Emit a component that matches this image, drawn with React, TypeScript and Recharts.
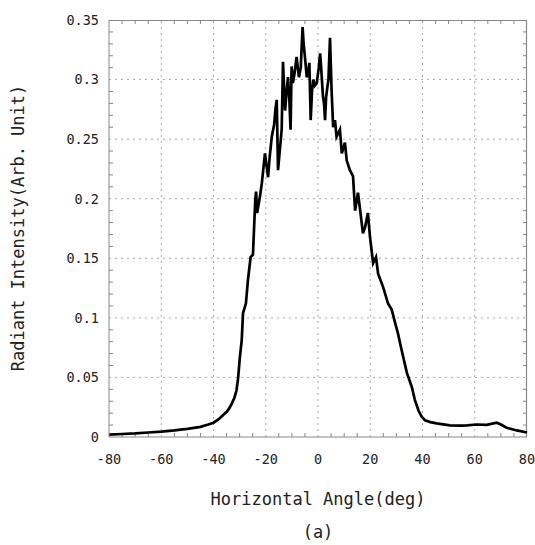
import React from "react";
import { LineChart, Line, XAxis, YAxis, ReferenceLine } from "recharts";

const angle = [
  -80, -75, -70, -65, -60, -55, -50, -45, -42, -40, -38, -36, -35, -34, -33, -32,
  -31.2, -30.6, -29.9, -29.2, -28.7, -27.6, -26.8, -25.8, -24.9, -24.5, -24, -23.7,
  -23.3, -22.2, -21.5, -20.3, -19.1, -18.5, -17.7, -16.8, -16.3, -15.8, -15.3, -13.9,
  -13.4, -12.6, -12, -11.5, -11, -10.5, -10.1, -9.6, -9, -8.7, -8.2, -7.3, -6.6, -6.3,
  -5.9, -5.5, -5.0, -4.3, -3.8, -3.3, -2.8, -2.3, -1.8, -1.2, -0.5, 0, 0.3, 0.8, 1.2,
  1.9, 2.3, 2.7, 3.1, 3.6, 4.0, 4.6, 5.2, 5.8, 6.5, 7.1, 8.4, 9.1, 10.3, 11.0, 12.2,
  13.4, 14.2, 15.3, 16.1, 17.2, 18.0, 19.1, 19.9, 21.1, 22.2, 23.0, 24.9, 26.8, 28.2,
  29.5, 30.6, 32.0, 34.0, 35.9, 37.1, 38.5, 39.7, 41.0, 43, 45.4, 50.5, 55, 57, 60.8,
  64.6, 68.4, 70, 72.2, 76.1, 80,
];
const intensity = [
  0.002, 0.0025, 0.003, 0.0038, 0.0045, 0.0055, 0.0068, 0.0085, 0.0105, 0.012, 0.015,
  0.019, 0.021, 0.024, 0.028, 0.033, 0.039, 0.049, 0.067, 0.081, 0.104, 0.112, 0.132,
  0.151, 0.153, 0.174, 0.199, 0.206, 0.188, 0.202, 0.213, 0.238, 0.218, 0.235, 0.252,
  0.262, 0.275, 0.283, 0.224, 0.258, 0.315, 0.274, 0.29, 0.302, 0.285, 0.258, 0.311,
  0.297, 0.305, 0.31, 0.319, 0.302, 0.31, 0.325, 0.344, 0.33, 0.319, 0.302, 0.305,
  0.314, 0.266, 0.29, 0.3, 0.295, 0.297, 0.305, 0.31, 0.322, 0.31, 0.286, 0.28, 0.266,
  0.285, 0.294, 0.3, 0.335, 0.291, 0.26, 0.266, 0.252, 0.258, 0.238, 0.247, 0.232,
  0.224, 0.219, 0.19, 0.205, 0.191, 0.171, 0.176, 0.188, 0.168, 0.146, 0.151, 0.137,
  0.126, 0.112, 0.107, 0.096, 0.087, 0.073, 0.054, 0.042, 0.031, 0.022, 0.017, 0.014,
  0.0125, 0.0115, 0.0098, 0.0096, 0.0097, 0.0105, 0.0102, 0.012, 0.0105, 0.0078,
  0.0055, 0.0038,
];

const xMajorTicks = [-80, -60, -40, -20, 0, 20, 40, 60, 80];
const xMinorTicks = [
  -75, -70, -65, -55, -50, -45, -35, -30, -25, -15, -10, -5,
  5, 10, 15, 25, 30, 35, 45, 50, 55, 65, 70, 75,
];
const yMajorTicks = [0, 0.05, 0.1, 0.15, 0.2, 0.25, 0.3, 0.35];
const yMinorTicks = [
  0.01, 0.02, 0.03, 0.04, 0.06, 0.07, 0.08, 0.09, 0.11, 0.12, 0.13, 0.14,
  0.16, 0.17, 0.18, 0.19, 0.21, 0.22, 0.23, 0.24, 0.26, 0.27, 0.28, 0.29,
  0.31, 0.32, 0.33, 0.34,
];

const data = angle.map((a, i) => ({ angle: a, value: intensity[i] }));

const W = 535;
const H = 545;
const X_AXIS_H = 108;
const Y_AXIS_W = 109;
const MARGIN = { top: 20, right: 8, bottom: 0, left: 0 };
const PLOT = {
  left: MARGIN.left + Y_AXIS_W,
  right: W - MARGIN.right,
  top: MARGIN.top,
  bottom: H - MARGIN.bottom - X_AXIS_H,
};
const X_DOMAIN = [-80, 80];
const Y_DOMAIN = [0, 0.35];
// same linear mapping the axes use, for the frame's minor tick marks
const xPx = (v: number) =>
  PLOT.left + ((v - X_DOMAIN[0]) / (X_DOMAIN[1] - X_DOMAIN[0])) * (PLOT.right - PLOT.left);
const yPx = (v: number) =>
  PLOT.bottom - ((v - Y_DOMAIN[0]) / (Y_DOMAIN[1] - Y_DOMAIN[0])) * (PLOT.bottom - PLOT.top);

const FONT = "'DejaVu Sans Mono', monospace";
const AXIS = "#888";
const GRID = "#aaa";
const TEXT = "#222";

const xTickPath = xMinorTicks
  .map((v) => `M${xPx(v)},${PLOT.bottom}v-4M${xPx(v)},${PLOT.top}v4`)
  .join("");
const yTickPath = yMinorTicks
  .map((v) => `M${PLOT.left},${yPx(v)}h4M${PLOT.right},${yPx(v)}h-4`)
  .join("");

export default function App() {
  return (
    <div style={{ position: "absolute", left: 0, top: 0, width: W, height: H, background: "#fff" }}>
      <LineChart width={W} height={H} data={data} margin={MARGIN}>
        {xMajorTicks.slice(1, -1).map((v) => (
          <ReferenceLine key={"gx" + v} x={v} stroke={GRID} strokeDasharray="2 4" />
        ))}
        {yMajorTicks.slice(1, -1).map((v) => (
          <ReferenceLine key={"gy" + v} y={v} stroke={GRID} strokeDasharray="2 4" />
        ))}
        <XAxis
          dataKey="angle"
          type="number"
          domain={X_DOMAIN}
          ticks={xMajorTicks}
          interval={0}
          height={X_AXIS_H}
          tickSize={0}
          tickMargin={17}
          tickLine={false}
          axisLine={{ stroke: AXIS }}
          tick={{ fontFamily: FONT, fontSize: 13.5, fill: TEXT }}
        />
        <YAxis
          type="number"
          domain={Y_DOMAIN}
          ticks={yMajorTicks}
          interval={0}
          width={Y_AXIS_W}
          tickSize={0}
          tickMargin={10}
          tickLine={false}
          axisLine={{ stroke: AXIS }}
          tick={{ fontFamily: FONT, fontSize: 13.5, fill: TEXT }}
          tickFormatter={(v: number) => String(Math.round(v * 100) / 100)}
        />
        <path
          d={`M${PLOT.left},${PLOT.top + 0.5}H${PLOT.right - 0.5}V${PLOT.bottom}`}
          fill="none"
          stroke={AXIS}
          strokeWidth={1.2}
        />
        <path d={xTickPath + yTickPath} fill="none" stroke={AXIS} strokeWidth={1} />
        <Line
          type="linear"
          dataKey="value"
          stroke="#000"
          strokeWidth={2.7}
          dot={false}
          isAnimationActive={false}
        />
        <text x={318} y={505} textAnchor="middle" fontFamily={FONT} fontSize={17} fill={TEXT}>
          Horizontal Angle(deg)
        </text>
        <text x={318} y={538} textAnchor="middle" fontFamily={FONT} fontSize={17} fill={TEXT}>
          (a)
        </text>
        <text
          x={24}
          y={228}
          transform="rotate(-90, 24, 228)"
          textAnchor="middle"
          fontFamily={FONT}
          fontSize={17}
          fill={TEXT}
        >
          Radiant Intensity(Arb. Unit)
        </text>
      </LineChart>
    </div>
  );
}
